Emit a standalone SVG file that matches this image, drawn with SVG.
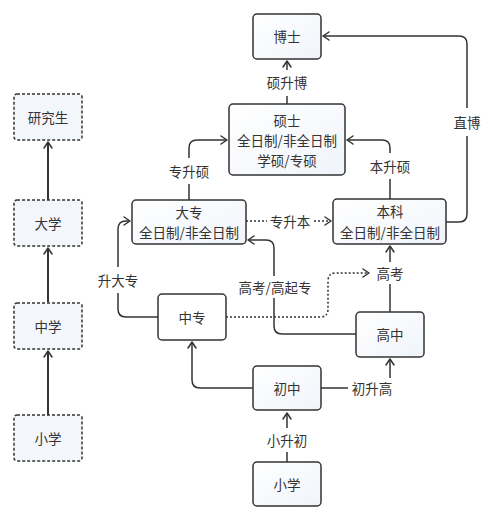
<svg xmlns="http://www.w3.org/2000/svg" width="500" height="508" viewBox="0 0 500 508">
<defs>
<linearGradient id="g" x1="0" y1="0" x2="1" y2="1"><stop offset="0" stop-color="#ffffff"/><stop offset="1" stop-color="#f0f4fa"/></linearGradient>
<marker id="a" viewBox="-8 -6 10 12" markerWidth="10" markerHeight="12" refX="0" refY="0" orient="auto" markerUnits="userSpaceOnUse"><path d="M-6,-4 L0,0 L-6,4" fill="none" stroke="#333" stroke-width="1.5" stroke-linecap="round" stroke-linejoin="round"/></marker>
</defs>
<style>
text{font-family:"Noto Sans CJK SC","Noto Sans",sans-serif;font-size:13.5px;fill:#333;text-anchor:middle;dominant-baseline:central}
.n{fill:url(#g);stroke:#333;stroke-width:1.5}
.d{fill:#f3f7fc;stroke:#333;stroke-width:1.5;stroke-dasharray:3 2}
.c{fill:none;stroke:#333;stroke-width:1.5;marker-end:url(#a)}
.cd{fill:none;stroke:#333;stroke-width:1.5;stroke-dasharray:2 2;marker-end:url(#a)}
.cl{fill:none;stroke:#333;stroke-width:2;marker-end:url(#a)}
.bg{fill:#fff}
</style>
<rect width="500" height="508" fill="#fff"/>
<g id="connectors">
<path class="cl" d="M48,200 V142"/>
<path class="cl" d="M48,302 V248"/>
<path class="cl" d="M48,415 V351"/>
<path class="c" d="M287,104 V61"/>
<path class="c" d="M189,200 V148 Q189,140 197,140 H227"/>
<path class="c" d="M390,199 V148 Q390,140 382,140 H347"/>
<path class="c" d="M446,222 H459 Q467,222 467,214 V44 Q467,36 459,36 H323"/>
<path class="c" d="M158,317 H126 Q118,317 118,309 V229 Q118,221 126,221 H130"/>
<path class="c" d="M356,334 H282 Q274,334 274,326 V248 Q274,240 266,240 H248"/>
<path class="c" d="M253,388 H200 Q192,388 192,380 V342"/>
<path class="c" d="M321,388 H382 Q390,388 390,380 V359"/>
<path class="c" d="M390,312 V246"/>
<path class="c" d="M287,462 V413"/>
<path class="cd" d="M246,221 H331"/>
<path class="cd" d="M226,317 H320 Q328,317 328,309 V281 Q328,273 336,273 H369"/>
<rect class="bg" x="265" y="70" width="44" height="26"/><text x="287" y="82">硕升博</text>
<rect class="bg" x="167" y="158" width="44" height="26"/><text x="189" y="171">专升硕</text>
<rect class="bg" x="368" y="153" width="44" height="26"/><text x="390" y="166">本升硕</text>
<rect class="bg" x="450" y="108" width="34" height="28"/><text x="467" y="122">直博</text>
<rect class="bg" x="267" y="212" width="46" height="18"/><text x="290" y="221">专升本</text>
<rect class="bg" x="98" y="267" width="40" height="26"/><text x="118" y="280">升大专</text>
<rect class="bg" x="239" y="276" width="72" height="22"/><text x="275" y="287">高考/高起专</text>
<rect class="bg" x="372" y="262" width="36" height="22"/><text x="390" y="273">高考</text>
<rect class="bg" x="348" y="378" width="46" height="20"/><text x="372" y="388">初升高</text>
<rect class="bg" x="265" y="428" width="44" height="24"/><text x="287" y="440">小升初</text>
</g>
<g id="yanjiusheng"><rect class="d" x="14" y="94" width="68" height="46" rx="3"/><text x="48" y="117">研究生</text></g>
<g id="daxue"><rect class="d" x="14" y="200" width="68" height="46" rx="3"/><text x="48" y="223">大学</text></g>
<g id="zhongxue"><rect class="d" x="14" y="303" width="68" height="46" rx="3"/><text x="48" y="326">中学</text></g>
<g id="xiaoxue-l"><rect class="d" x="14" y="415" width="68" height="46" rx="3"/><text x="48" y="438">小学</text></g>
<g id="boshi"><rect class="n" x="253" y="14" width="68" height="45" rx="4"/><text x="287" y="36">博士</text></g>
<g id="shuoshi"><rect class="n" x="229" y="104" width="116" height="71" rx="4"/><text x="287" y="120">硕士</text><text x="287" y="140">全日制/非全日制</text><text x="287" y="160">学硕/专硕</text></g>
<g id="dazhuan"><rect class="n" x="132" y="200" width="114" height="44" rx="4"/><text x="189" y="212">大专</text><text x="189" y="232">全日制/非全日制</text></g>
<g id="benke"><rect class="n" x="333" y="199" width="113" height="45" rx="4"/><text x="390" y="211">本科</text><text x="390" y="232">全日制/非全日制</text></g>
<g id="zhongzhuan"><rect class="n" x="158" y="294" width="68" height="46" rx="4" style="fill:#fff"/><text x="192" y="317">中专</text></g>
<g id="gaozhong"><rect class="n" x="356" y="312" width="68" height="45" rx="4"/><text x="390" y="334">高中</text></g>
<g id="chuzhong"><rect class="n" x="253" y="366" width="68" height="44" rx="4"/><text x="287" y="388">初中</text></g>
<g id="xiaoxue"><rect class="n" x="253" y="462" width="68" height="44" rx="4"/><text x="287" y="484">小学</text></g>
</svg>
